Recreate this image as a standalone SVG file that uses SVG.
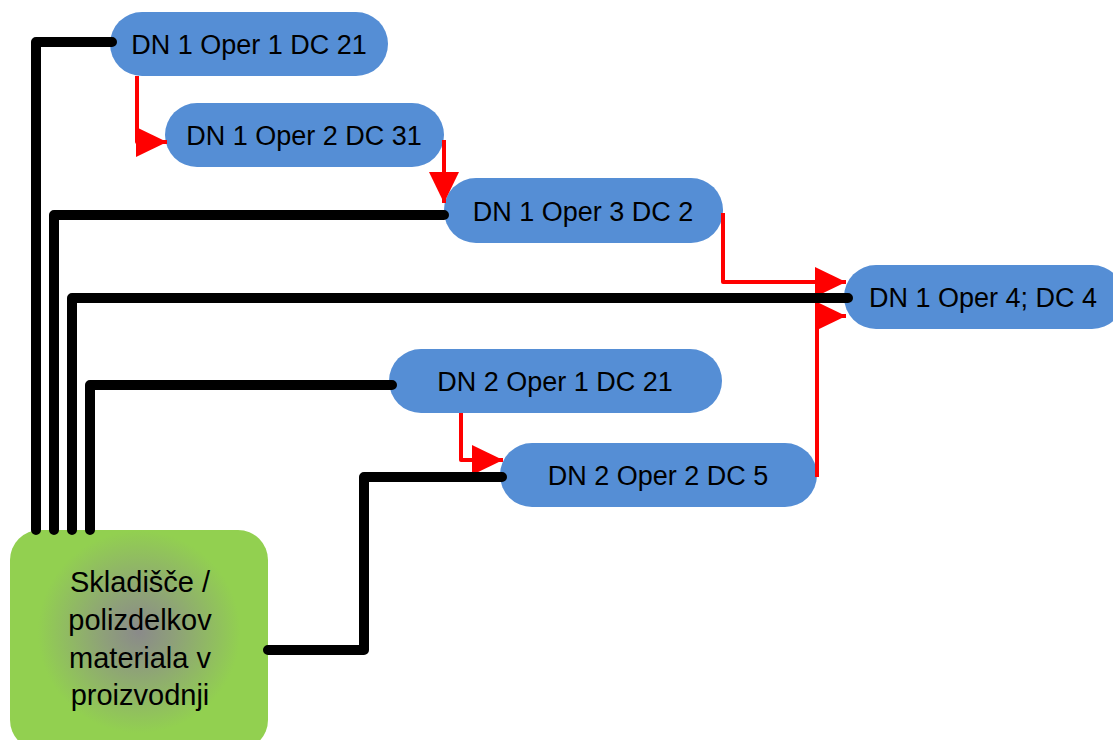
<svg xmlns="http://www.w3.org/2000/svg" width="1113" height="740" viewBox="0 0 1113 740">
<style>
.node{fill:#558ED5;}
.lbl{font-family:"Liberation Sans",Arial,sans-serif;font-size:27px;fill:#000;text-anchor:middle;}
.big{font-size:29px;}
.blk{fill:none;stroke:#000;stroke-width:10;stroke-linecap:round;stroke-linejoin:round;}
.red{fill:none;stroke:#FF0000;stroke-width:4;stroke-linejoin:round;marker-end:url(#ah);}
</style>
<defs>
<marker id="ah" markerUnits="userSpaceOnUse" markerWidth="31" markerHeight="30" refX="31" refY="15" orient="auto" viewBox="0 0 31 30">
<path d="M0,0 L31,15 L0,30 z" fill="#FF0000"/>
</marker>
<radialGradient id="gg" gradientUnits="userSpaceOnUse" cx="139" cy="632" r="135">
<stop offset="0" stop-color="#8a8a8a"/>
<stop offset="0.25" stop-color="#8e9f7a"/>
<stop offset="0.75" stop-color="#92D050"/>
<stop offset="1" stop-color="#92D050"/>
</radialGradient>
</defs>
<rect width="1113" height="740" fill="#fff"/>
<g id="n1"><rect class="node" x="110" y="12" width="278" height="64" rx="32"/><text class="lbl" x="249" y="54">DN 1 Oper 1 DC 21</text></g>
<g id="n2"><rect class="node" x="165" y="103" width="279" height="64" rx="32"/><text class="lbl" x="304" y="145">DN 1 Oper 2 DC 31</text></g>
<g id="n3"><rect class="node" x="444" y="178" width="279" height="65" rx="32"/><text class="lbl" x="583" y="221">DN 1 Oper 3 DC 2</text></g>
<g id="n4"><rect class="node" x="844" y="265" width="280" height="64" rx="32"/><text class="lbl" x="983" y="307">DN 1 Oper 4; DC 4</text></g>
<g id="n5"><rect class="node" x="389" y="349" width="333" height="64" rx="32"/><text class="lbl" x="555" y="391">DN 2 Oper 1 DC 21</text></g>
<g id="n6"><rect class="node" x="500" y="443" width="317" height="64" rx="32"/><text class="lbl" x="658" y="485">DN 2 Oper 2 DC 5</text></g>
<g id="store"><rect x="10" y="530" width="258" height="220" rx="30" fill="url(#gg)"/>
<text class="lbl big" x="140" y="592">Skladišče /</text>
<text class="lbl big" x="140" y="630">polizdelkov</text>
<text class="lbl big" x="140" y="668">materiala v</text>
<text class="lbl big" x="140" y="705">proizvodnji</text></g>
<g id="connectors">
<path class="red" d="M137,76 V142 H167"/>
<path class="red" d="M444,140 V203"/>
<path class="red" d="M723,213 V282 H846"/>
<path class="red" d="M817,477 V316 H846"/>
<path class="red" d="M461,413 V460 H503"/>
<path class="blk" d="M36,530 V42 H112"/>
<path class="blk" d="M54,530 V215 H444"/>
<path class="blk" d="M72,530 V298 H848"/>
<path class="blk" d="M90,530 V385 H392"/>
<path class="blk" d="M268,650 H364 V477 H502"/>
</g>
</svg>
